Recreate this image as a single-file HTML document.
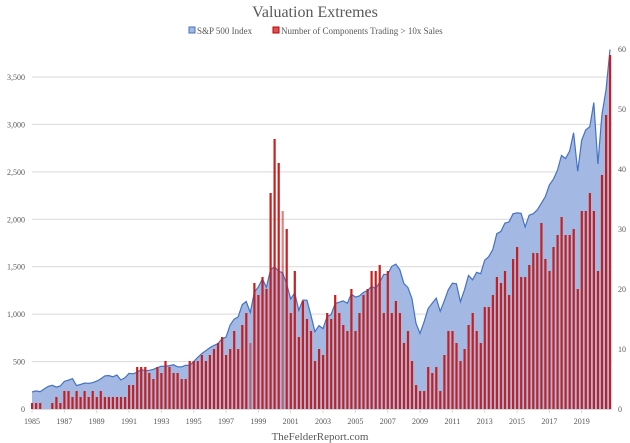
<!DOCTYPE html>
<html><head><meta charset="utf-8"><style>
body{margin:0;background:#fff;}
svg{display:block;font-family:"Liberation Serif",serif;}
</style></head><body>
<svg id="c" width="630" height="443" viewBox="0 0 630 443">
<text x="315" y="17" text-anchor="middle" font-size="16" fill="#595959">Valuation Extremes</text>
<rect x="189" y="27" width="6" height="6" fill="#a3b8e2" stroke="#4472c4" stroke-width="1"/>
<text x="197" y="34" font-size="9" fill="#595959">S&amp;P 500 Index</text>
<rect x="273" y="27" width="6" height="6" fill="#e05050" stroke="#c00000" stroke-width="1"/>
<text x="281" y="34" font-size="9" fill="#595959">Number of Components Trading &gt; 10x Sales</text>
<g id="grid"></g>
<g id="plot"></g>
<g font-size="8" fill="#595959" id="lbl"></g>
<text x="320" y="440" text-anchor="middle" font-size="11" fill="#595959">TheFelderReport.com</text>
</svg>
<script>
var sp=[180,191,182,211,238,250,231,242,291,304,321,247,258,273,271,277,294,317,349,353,339,358,306,330,375,371,387,417,403,408,417,435,451,450,458,466,445,444,462,459,500,544,584,615,645,670,687,740,757,885,947,970,1101,1133,1017,1229,1286,1372,1282,1469,1498,1454,1436,1320,1160,1224,1040,1148,1147,989,815,879,848,974,995,1111,1126,1140,1114,1211,1180,1191,1228,1248,1294,1270,1335,1418,1420,1503,1526,1468,1322,1280,1166,903,797,919,1057,1115,1169,1030,1141,1257,1325,1320,1131,1257,1408,1362,1440,1426,1569,1606,1681,1848,1872,1960,1972,2058,2067,2063,1920,2043,2059,2098,2168,2238,2362,2423,2519,2673,2640,2718,2913,2506,2834,2941,2976,3230,2584,3100,3363,3790];
var bars=[1,1,1,0,0,1,2,1,3,3,2,3,2,3,2,3,2,3,2,2,2,2,2,2,4,4,7,7,7,6,5,7,6,8,7,6,
6,5,5,8,8,8,9,8,9,10,11,12,9,10,13,10,14,16,11,21,19,22,20,36,45,41,33,30,16,23,12,18,15,13,8,10,9,16,15,19,16,14,13,20,13,16,19,20,23,23,24,16,23,16,18,16,11,13,8,4,
3,3,7,6,7,3,9,13,13,11,8,10,14,16,13,11,17,17,19,22,21,23,19,25,27,22,22,24,26,26,31,25,23,27,29,32,29,29,30,20,33,33,36,33,23,39,49,59];
var NS="http://www.w3.org/2000/svg";
function el(t,a,p){var e=document.createElementNS(NS,t);for(var k in a)e.setAttribute(k,a[k]);p.appendChild(e);return e;}
var B=409,ky=332/3500,kr=6,x0=32,dx=578/143;
var g=document.getElementById('grid'),p=document.getElementById('plot'),L=document.getElementById('lbl');
for(var v=500;v<=3500;v+=500){var y=B-v*ky;el('line',{x1:32,x2:612,y1:y,y2:y,stroke:'#d9d9d9','stroke-width':1},g);}
el('line',{x1:32,x2:612,y1:B+.5,y2:B+.5,stroke:'#d9d9d9','stroke-width':1},g);
var d='M'+x0+','+B;
for(var i=0;i<sp.length;i++){d+=' L'+(x0+i*dx).toFixed(1)+','+(B-sp[i]*ky).toFixed(1);}
var lx=x0+(sp.length-1)*dx;
el('path',{d:d+' L'+lx.toFixed(1)+','+B+' Z',fill:'#a3b8e2'},p);
el('path',{d:d.replace('M'+x0+','+B+' L','M'),fill:'none',stroke:'#4472c4','stroke-width':1.2},p);
for(var i=0;i<bars.length;i++){if(!bars[i])continue;var h=bars[i]*kr;
 var op=(i==62||i==54)?0.55:1;
 el('rect',{x:(x0+i*dx-1).toFixed(1),y:(B-h).toFixed(1),width:2.2,height:h.toFixed(1),fill:'#c81e1e',opacity:op},p);}
var lv=['0','500','1,000','1,500','2,000','2,500','3,000','3,500'];
for(var j=0;j<lv.length;j++){var t=el('text',{x:25,y:B-j*500*ky+3,'text-anchor':'end'},L);t.textContent=lv[j];}
for(var j=0;j<=60;j+=10){var t=el('text',{x:618,y:B-j*kr+3},L);t.textContent=j;}
for(var yr=1985;yr<=2019;yr+=2){var x=x0+(yr-1985)*4*dx;var t=el('text',{x:x,y:424,'text-anchor':'middle'},L);t.textContent=yr;
 el('line',{x1:x,x2:x,y1:B,y2:B+4,stroke:'#d9d9d9'},g);}
</script>
</body></html>
